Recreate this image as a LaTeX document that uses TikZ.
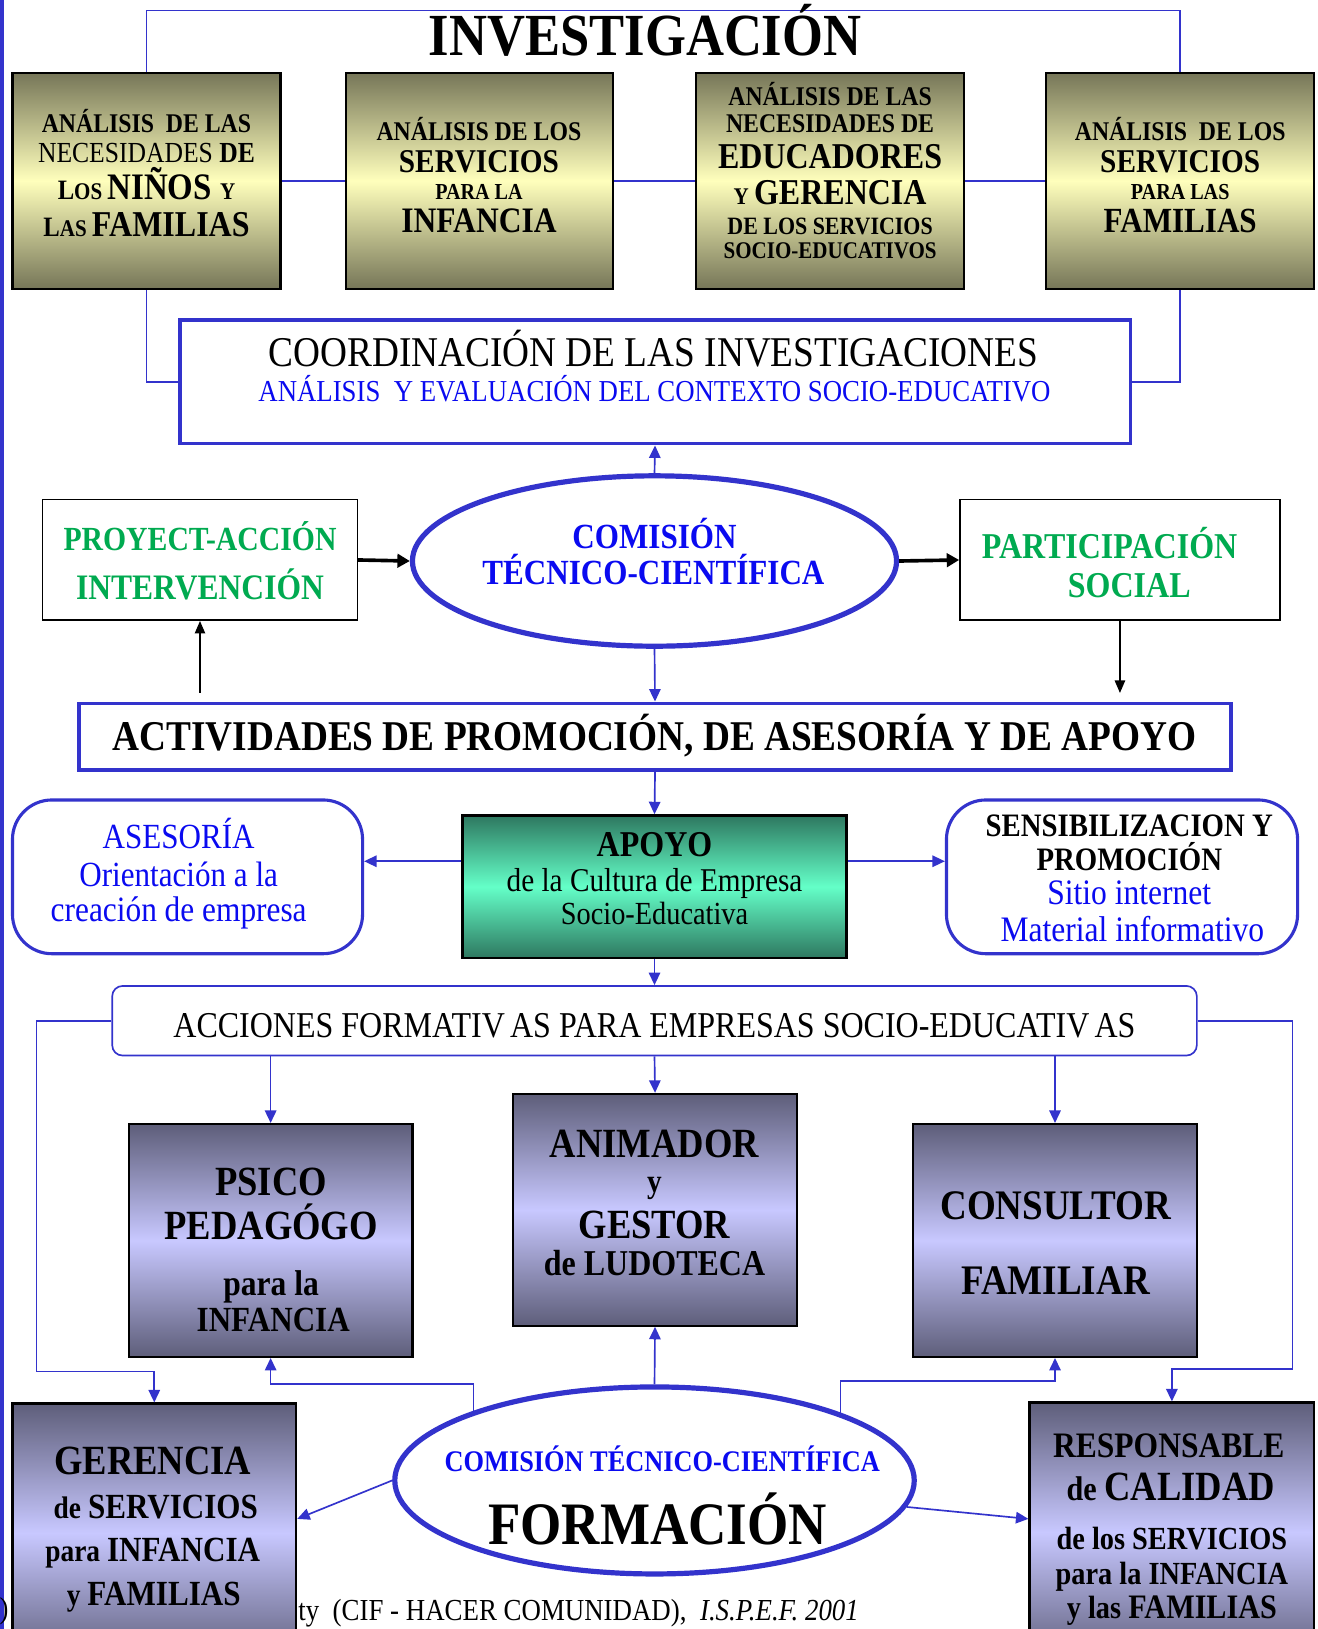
\documentclass[tikz,border=0pt]{standalone}
\usepackage{fontspec}
\setmainfont{Liberation Serif}[FakeStretch=0.88]
\usetikzlibrary{arrows.meta,shapes.geometric}
\definecolor{lblue}{RGB}{51,51,204}
\definecolor{tblue}{RGB}{10,10,240}
\definecolor{tgreen}{RGB}{0,170,80}
\definecolor{olD}{RGB}{118,118,88}
\definecolor{olL}{RGB}{255,255,188}
\definecolor{grD}{RGB}{46,120,96}
\definecolor{grL}{RGB}{100,255,200}
\definecolor{puD}{RGB}{94,94,122}
\definecolor{puL}{RGB}{200,200,255}
\newcommand\fsz[1]{\fontsize{#1}{#1}\selectfont}
\tikzset{
 conn/.style={draw=lblue, line width=1.6pt},
 arr/.style={conn, -{Triangle[width=11pt,length=12pt]}},
 barr/.style={draw=black, line width=1.3pt, -{Triangle[width=10pt,length=12pt]}},
 tarr/.style={draw=black, line width=3.5pt, -{Triangle[width=13pt,length=12pt]}},
 tx/.style={anchor=base, inner sep=0pt},
 olbox/.style={draw=black, line width=2.2pt, top color=olD, bottom color=olD, middle color=olL, inner sep=0pt},
 grbox/.style={draw=black, line width=2.5pt, top color=grD, bottom color=grD, middle color=grL, inner sep=0pt},
 pubox/.style={draw=black, line width=2.2pt, top color=puD, bottom color=puD, middle color=puL, inner sep=0pt},
 bbox/.style={draw=lblue, line width=3.5pt, fill=white, inner sep=0pt},
 kbox/.style={draw=black, line width=1.5pt, fill=white, inner sep=0pt},
 rbox/.style={draw=lblue, line width=3pt, fill=white, rounded corners=38pt, inner sep=0pt},
 ell/.style={ellipse, draw=lblue, line width=5pt, fill=white, inner sep=0pt},
}
\begin{document}
\begin{tikzpicture}[x=1pt,y=-1pt]
\useasboundingbox (0,0) rectangle (1268,1568);
\clip (0,0) rectangle (1268,1568);
\fill[white] (0,0) rectangle (1268,1568);
\draw[lblue, line width=3.5pt] (1.7,0) -- (1.7,1568);

% ---------- boxes ----------
\node[olbox, minimum width=258pt, minimum height=208pt] (b1) at (141,174) {};
\node[olbox, minimum width=257pt, minimum height=208pt] (b2) at (461.5,174) {};
\node[olbox, minimum width=258pt, minimum height=208pt] (b3) at (799,174) {};
\node[olbox, minimum width=258pt, minimum height=208pt] (b4) at (1136,174) {};
\node[bbox, minimum width=915pt, minimum height=119pt] (coord) at (630.5,367.5) {};
\node[ell, minimum width=466pt, minimum height=164pt] (e1) at (630,540) {};
\node[kbox, minimum width=303pt, minimum height=116pt] (proj) at (192.5,539) {};
\node[kbox, minimum width=308pt, minimum height=116pt] (part) at (1078,539) {};
\node[bbox, minimum width=1109pt, minimum height=64pt] (act) at (630.5,709) {};
\node[grbox, minimum width=370pt, minimum height=137pt] (apoyo) at (630,853.5) {};
\node[rbox, minimum width=337pt, minimum height=148pt] (ases) at (180.5,844) {};
\node[rbox, minimum width=338pt, minimum height=148pt] (sens) at (1080,844) {};
\node[draw=lblue, line width=1.6pt, fill=white, rounded corners=10pt, inner sep=0pt,
      minimum width=1044pt, minimum height=67pt] (acc) at (630,982.5) {};
\node[pubox, minimum width=273pt, minimum height=224pt] (psico) at (260.5,1194) {};
\node[pubox, minimum width=273pt, minimum height=223pt] (anim) at (630.5,1164.5) {};
\node[pubox, minimum width=273pt, minimum height=224pt] (cons) at (1015.5,1194) {};
\node[tx, font=\fsz{29}] (fp) at (4,1558) {)};
\node[pubox, minimum width=273pt, minimum height=249pt] (ger) at (148.5,1475.5) {};
\node[pubox, minimum width=274pt, minimum height=250pt] (resp) at (1128,1475) {};
\node[ell, minimum width=500pt, minimum height=180pt] (e2) at (630,1425) {};

% ---------- connectors ----------
\coordinate (tl) at (141,10);
\coordinate (tr) at (1136,10);
\draw[conn] (b1.north) -- (tl) -- (tr) -- (b4.north);
\draw[conn] (b1.east) -- (b2.west);
\draw[conn] (b2.east) -- (b3.west);
\draw[conn] (b3.east) -- (b4.west);
\draw[conn] (b1.south) |- (coord.west);
\draw[conn] (b4.south) |- (coord.east);
\draw[arr] (e1.north) -- (coord.south);
\draw[tarr] (proj.east) -- (e1.west);
\draw[tarr] (e1.east) -- (part.west);
\coordinate (pfree) at (192.5,667);
\coordinate (qfree) at (1078,667);
\draw[barr] (pfree) -- (proj.south);
\draw[barr] (part.south) -- (qfree);
\draw[arr] (e1.south) -- (act.north);
\draw[arr] (act.south) -- (apoyo.north);
\coordinate (aL) at ([yshift=24.5pt]apoyo.west);
\coordinate (aR) at ([yshift=24.5pt]apoyo.east);
\draw[arr] (aL) -- (aL -| ases.east);
\draw[arr] (aR) -- (aR -| sens.west);
\draw[arr] (apoyo.south) -- (acc.north);
\draw[arr] (acc.south -| psico.north) -- (psico.north);
\draw[arr] (acc.south) -- (anim.north);
\draw[arr] (acc.south -| cons.north) -- (cons.north);
\coordinate (L1) at (35,982.5);
\coordinate (L2) at (35,1320);
\draw[arr] (acc.west) -- (L1) -- (L2) -| (ger.north);
\coordinate (R1) at (1244,982.5);
\coordinate (R2) at (1244,1318);
\draw[arr] (acc.east) -- (R1) -- (R2) -| (resp.north);
\draw[arr] (e2.north) -- (anim.south);
\coordinate (pl) at (260.5,1332);
\coordinate (pr) at (1015.5,1329);
\draw[arr] (e2.159.8) |- (pl) -- (psico.south);
\draw[arr] (e2.20) |- (pr) -- (cons.south);
\draw[arr] (e2.west) -- ([yshift=13.5pt]ger.east);
\draw[arr] (e2.-6) -- ([yshift=13pt]resp.west);

% ---------- texts ----------
\node[tx, font=\fsz{57.5}\bfseries] (title) at (621,53) {INVESTIGACIÓN};

\node[tx, font=\fsz{26}\bfseries] (b1a) at (141,128) {ANÁLISIS\ \ DE LAS};
\node[tx] (b1b) at (141,156) {\fsz{28}NECESIDADES \bfseries DE};
\node[tx, font=\bfseries] (b1c) at (141,192) {\fsz{27}L\fsz{23}OS \fsz{36}NIÑOS \fsz{23}Y};
\node[tx, font=\bfseries] (b1d) at (141,228) {\fsz{27}L\fsz{23}AS \fsz{35}FAMILIAS};

\node[tx, font=\fsz{26}\bfseries] (b2a) at (461,135) {ANÁLISIS DE LOS};
\node[tx, font=\fsz{32}\bfseries] (b2b) at (461,166) {SERVICIOS};
\node[tx, font=\fsz{22}\bfseries] (b2c) at (461,192) {PARA LA};
\node[tx, font=\fsz{34.5}\bfseries] (b2d) at (461,224) {INFANCIA};

\node[tx, font=\fsz{26}\bfseries] (b3a) at (799,102) {ANÁLISIS DE LAS};
\node[tx, font=\fsz{26}\bfseries] (b3b) at (799,128) {NECESIDADES DE};
\node[tx, font=\fsz{35}\bfseries] (b3c) at (799,162) {EDUCADORES};
\node[tx, font=\bfseries] (b3d) at (799,197) {\fsz{23}Y \fsz{35}GERENCIA};
\node[tx, font=\fsz{24}\bfseries] (b3e) at (799,226) {DE LOS SERVICIOS};
\node[tx, font=\fsz{23}\bfseries] (b3f) at (799,249) {SOCIO-EDUCATIVOS};

\node[tx, font=\fsz{26}\bfseries] (b4a) at (1136,135) {ANÁLISIS\ \ DE LOS};
\node[tx, font=\fsz{32}\bfseries] (b4b) at (1136,166) {SERVICIOS};
\node[tx, font=\fsz{22}\bfseries] (b4c) at (1136,192) {PARA LAS};
\node[tx, font=\fsz{34}\bfseries] (b4d) at (1136,224) {FAMILIAS};

\node[tx, font=\fsz{40.8}] (c1) at (629,353) {COORDINACIÓN DE LAS INVESTIGACIONES};
\node[tx, font=\fsz{29.3}, text=tblue] (c2) at (630,386) {ANÁLISIS\ \ Y EVALUACIÓN DEL CONTEXTO SOCIO-EDUCATIVO};

\node[tx, font=\fsz{34}\bfseries, text=tblue] (e1a) at (630,528) {COMISIÓN};
\node[tx, font=\fsz{34}\bfseries, text=tblue] (e1b) at (629,563) {TÉCNICO-CIENTÍFICA};

\node[tx, font=\fsz{32.5}\bfseries, text=tgreen] (p1) at (192.5,530) {PROYECT-ACCIÓN};
\node[tx, font=\fsz{34.5}\bfseries, text=tgreen] (p2) at (192.5,577) {INTERVENCIÓN};
\node[tx, font=\fsz{35}\bfseries, text=tgreen] (q1) at (1068,538) {PARTICIPACIÓN};
\node[tx, font=\fsz{35}\bfseries, text=tgreen] (q2) at (1087,575) {SOCIAL};

\node[tx, font=\fsz{40.8}\bfseries] (a1) at (630,722) {ACTIVIDADES DE PROMOCIÓN, DE ASESORÍA Y DE APOYO};

\node[tx, font=\fsz{35}\bfseries] (ap1) at (630,824) {APOYO};
\node[tx, font=\fsz{32}] (ap2) at (630,858) {de la Cultura de Empresa};
\node[tx, font=\fsz{31}] (ap3) at (630,890) {Socio-Educativa};

\node[tx, font=\fsz{34}, text=tblue] (s1) at (172,817) {ASESORÍA};
\node[tx, font=\fsz{34}, text=tblue] (s2) at (172,853) {Orientación a la};
\node[tx, font=\fsz{34.3}, text=tblue] (s3) at (172,887) {creación de empresa};

\node[tx, font=\fsz{31.5}\bfseries] (t1) at (1087,805) {SENSIBILIZACION Y};
\node[tx, font=\fsz{31.5}\bfseries] (t2) at (1087,838) {PROMOCIÓN};
\node[tx, font=\fsz{34.5}, text=tblue] (t3) at (1087,871) {Sitio internet};
\node[tx, font=\fsz{34.5}, text=tblue] (t4) at (1090,906) {Material informativo};

\node[tx, font=\fsz{35}] (ac1) at (630,999) {ACCIONES FORMATIV\kern5pt AS PARA EMPRESAS SOCIO-EDUCATIV\kern5pt AS};

\node[tx, font=\fsz{40}\bfseries] (ps1) at (261,1151) {PSICO};
\node[tx, font=\fsz{40}\bfseries] (ps2) at (261,1193) {PEDAGÓGO};
\node[tx, font=\fsz{34.5}\bfseries] (ps3) at (261,1247) {para la};
\node[tx, font=\fsz{34}\bfseries] (ps4) at (263,1282) {INFANCIA};

\node[tx, font=\fsz{40}\bfseries] (an1) at (630,1114) {ANIMADOR};
\node[tx, font=\fsz{32}\bfseries] (an2) at (630,1148) {y};
\node[tx, font=\fsz{40}\bfseries] (an3) at (630,1192) {GESTOR};
\node[tx, font=\fsz{35}\bfseries] (an4) at (630,1228) {de LUDOTECA};

\node[tx, font=\fsz{40.5}\bfseries] (co1) at (1016,1174) {CONSULTOR};
\node[tx, font=\fsz{40.5}\bfseries] (co2) at (1016,1246) {FAMILIAR};

\node[tx, font=\fsz{40}\bfseries] (g1) at (147,1419) {GERENCIA};
\node[tx, font=\bfseries] (g2) at (150,1462) {\fsz{30}de \fsz{34}SERVICIOS};
\node[tx, font=\bfseries] (g3) at (147,1503) {\fsz{30}para \fsz{34}INFANCIA};
\node[tx, font=\bfseries] (g4) at (148,1545) {\fsz{30}y \fsz{34}FAMILIAS};

\node[tx, font=\fsz{34.5}\bfseries] (r1) at (1125,1403) {RESPONSABLE};
\node[tx, font=\bfseries] (r2) at (1127,1444) {\fsz{33}de \fsz{40}CALIDAD};
\node[tx, font=\fsz{31}\bfseries] (r3) at (1128,1491) {de los SERVICIOS};
\node[tx, font=\fsz{31}\bfseries] (r4) at (1128,1525) {para la INFANCIA};
\node[tx, font=\bfseries] (r5) at (1128,1558) {\fsz{31}y las \fsz{33}FAMILIAS};

\node[tx, font=\fsz{28.8}\bfseries, text=tblue] (f1) at (637.5,1416) {COMISIÓN TÉCNICO-CIENTÍFICA};
\node[tx, font=\fsz{58}\bfseries] (f2) at (633,1487) {FORMACIÓN};

\node[tx, anchor=base west, font=\fsz{29.4}] (ft) at (287,1560) {ty\ \ (CIF - HACER COMUNIDAD),\ \ \textit{I.S.P.E.F. 2001}};
\end{tikzpicture}
\end{document}
